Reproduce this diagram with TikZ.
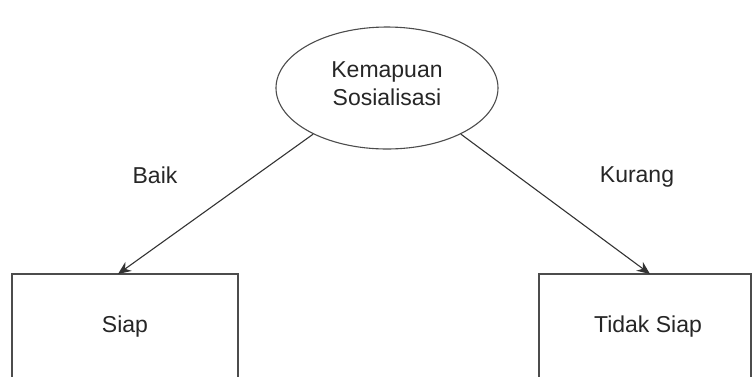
\documentclass[tikz,border=0pt]{standalone}
\usepackage{fontspec}
\setmainfont{Liberation Sans}
\usetikzlibrary{arrows.meta,shapes.geometric}
\begin{document}
\begin{tikzpicture}[x=1pt,y=-1pt,
  lbl/.style={font=\fontsize{23}{28}\selectfont, text=black!85},
  boxnode/.style={draw=black!70, line width=1.2pt, fill=white},
  link/.style={draw=black!80, line width=1.1pt, -{Stealth[length=13pt,width=11pt]}}]
\useasboundingbox (0,0) rectangle (753,376);
% root ellipse
\node[draw=black!70, line width=1.1pt, ellipse, minimum width=222pt, minimum height=122pt,
      inner sep=0pt] (root) at (387,88) {};
\node[lbl, align=center] (roottxt) at (387,84)
  {Kemapuan\\Sosialisasi};
% outcome boxes (run past the lower edge)
\path[boxnode] (12,274) rectangle (238,390);
\path[boxnode] (539,274) rectangle (751,390);
\coordinate (siaptop) at (118,274);
\coordinate (tidaktop) at (650,274);
\node[lbl] (siap) at (125,327) {Siap};
\node[lbl] (tidak) at (648,327) {Tidak Siap};
% connectors
\draw[link] (root.212) -- (siaptop);
\draw[link] (root.-32) -- (tidaktop);
\node[lbl] (baik) at (155,175) {Baik};
\node[lbl] (kurang) at (637,177) {Kurang};
\end{tikzpicture}
\end{document}
